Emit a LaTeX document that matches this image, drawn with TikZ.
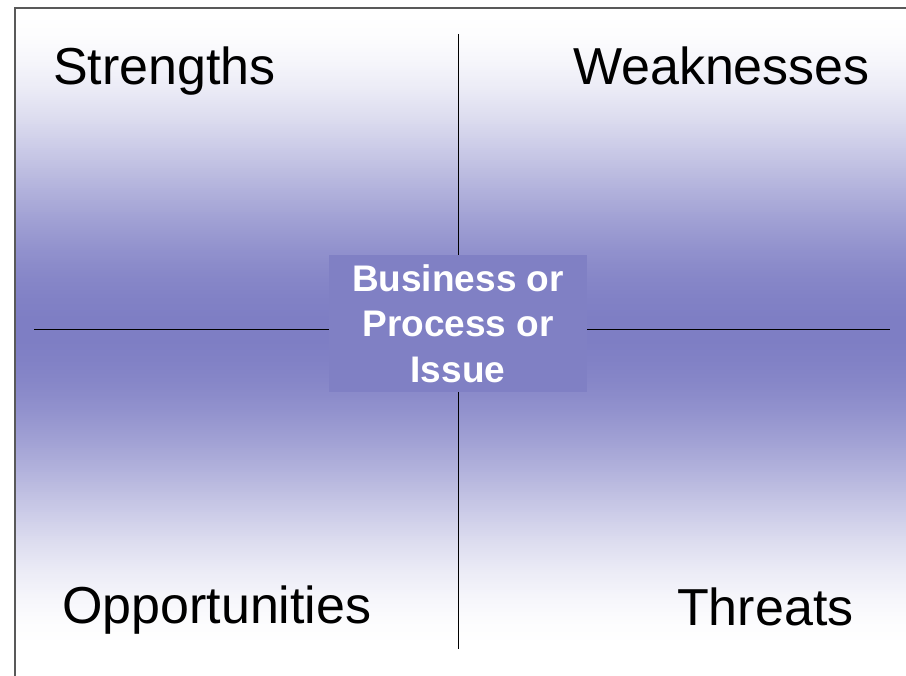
\documentclass[tikz,border=0pt]{standalone}
\usepackage{fontspec}
\setmainfont{Liberation Sans}

\definecolor{swotpurple}{RGB}{128,128,196}
\definecolor{swotband}{RGB}{126,126,196}

\tikzset{
    label/.style={inner sep=0pt, font=\fontsize{52}{60}\selectfont},
    issuebox/.style={fill=swotpurple, text=white, inner sep=0pt, align=center,
        minimum width=258pt, minimum height=137pt,
        font=\fontsize{37}{45.5}\selectfont\bfseries}
}

\begin{document}
\begin{tikzpicture}[x=1pt, y=-1pt]
        \useasboundingbox (0,0) rectangle (906,676);

        % background of the slide, white - purple - white in strips
        \fill[white] (0,0) rectangle (906,676);
        \foreach \k in {0,...,160} {
            \pgfmathsetmacro{\t}{\k/160}
            \pgfmathsetmacro{\p}{100*\t*\t*(3-2*\t)}
            \fill[swotband!\p!white] (15,8+2*\k) rectangle (906,10.6+2*\k);
            \fill[swotband!\p!white] (15,652-2*\k) rectangle (906,649.4-2*\k);
        }
        \draw[black!65, line width=1.3pt] (15,676) -- (15,8) -- (906,8);

        % axes
        \coordinate (north) at (458.3,34);
        \coordinate (south) at (458.3,649);
        \coordinate (west) at (34,329.3);
        \coordinate (east) at (890,329.3);
        \draw[black, line width=1pt] (north) -- (south);
        \draw[black, line width=1pt] (west) -- (east);

        \node[issuebox] (issue) at (458,323.5) {Business or\\Process or\\Issue};

        \node[label, anchor=base west] (strengths) at (53,85) {Strengths};
        \node[label, anchor=base east] (weaknesses) at (870,85) {Weaknesses};
        \node[label, anchor=base west] (opportunities) at (62,623) {Opportunities};
        \node[label, anchor=base west] (threats) at (677,625) {Threats};
    \end{tikzpicture}
\end{document}
